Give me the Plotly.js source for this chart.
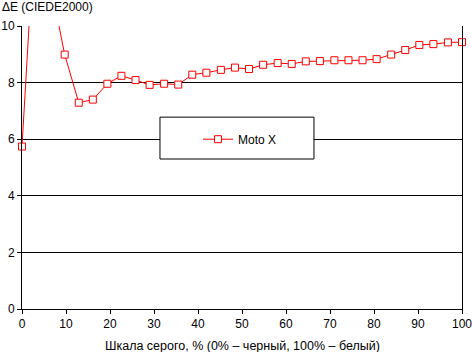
<!DOCTYPE html>
<html>
<head>
<meta charset="utf-8">
<script src="https://cdn.plot.ly/plotly-3.0.1.min.js"></script>
<style>html,body{margin:0;padding:0;background:#fff;}#chart{width:472px;height:352px;}</style>
</head>
<body>
<div id="chart"></div>
<script>
var grayLevels = [0, 3.2, 6.5, 9.7, 12.9, 16.1, 19.4, 22.6, 25.8, 29.0, 32.3, 35.5, 38.7, 41.9, 45.2, 48.4,
                  51.6, 54.8, 58.1, 61.3, 64.5, 67.7, 71.0, 74.2, 77.4, 80.6, 83.9, 87.1, 90.3, 93.5, 96.8, 100];
var motoX = [5.74, 14.3, 11.5, 8.99, 7.29, 7.40, 7.96, 8.24, 8.09, 7.92, 7.96, 7.93, 8.28, 8.35, 8.45, 8.53,
             8.48, 8.63, 8.69, 8.66, 8.75, 8.76, 8.79, 8.79, 8.79, 8.83, 8.99, 9.15, 9.33, 9.36, 9.42, 9.43];
var seriesName = "Moto X";
var xTicks = [0, 10, 20, 30, 40, 50, 60, 70, 80, 90, 100];
var yTicks = [0, 2, 4, 6, 8, 10];
var xTitle = "Шкала серого, % (0% – черный, 100% – белый)";
var yTitle = "ΔE (CIEDE2000)";

var font = {family: "Liberation Sans, Arial, sans-serif", size: 12, color: "#000"};
var titleFont = {family: "Liberation Sans, Arial, sans-serif", size: 12.5, color: "#000"};

var trace = {
  x: grayLevels, y: motoX, name: seriesName, type: "scatter", mode: "lines+markers",
  cliponaxis: false,
  line: {color: "#ff0000", width: 1},
  marker: {symbol: "square", size: 7, color: "#ffffff", line: {color: "#ff0000", width: 1}}
};

var layout = {
  width: 472, height: 352,
  margin: {l: 22, r: 10, t: 26, b: 43, pad: 0},
  paper_bgcolor: "#fff", plot_bgcolor: "#fff",
  font: font,
  showlegend: true,
  xaxis: {
    range: [0, 100], tickvals: xTicks, ticktext: xTicks.map(String),
    showgrid: false, zeroline: false, showline: true, linecolor: "#000", linewidth: 1,
    ticks: "outside", ticklen: 4, tickcolor: "#000", tickfont: font, fixedrange: true,
    ticklabeloverflow: "allow"
  },
  yaxis: {
    range: [0, 10], tickvals: yTicks, ticktext: yTicks.map(String),
    showgrid: true, gridcolor: "#000", gridwidth: 1, zeroline: false,
    showline: true, mirror: true, linecolor: "#000", linewidth: 1,
    ticks: "outside", ticklen: 4, tickcolor: "#000", tickfont: font, fixedrange: true,
    ticklabeloverflow: "allow"
  },
  shapes: [{
    type: "rect", xref: "paper", yref: "paper", layer: "above",
    x0: 0.3136, x1: 0.6636, y0: 0.530, y1: 0.678,
    fillcolor: "#ffffff", line: {color: "#000", width: 1}
  }],
  legend: {
    x: 0.40, y: 0.60, xanchor: "left", yanchor: "middle",
    bgcolor: "rgba(0,0,0,0)", borderwidth: 0, font: font, itemwidth: 30
  },
  annotations: [
    {text: yTitle, xref: "paper", yref: "paper", x: -22/440, y: 1 + 19/283,
     xanchor: "left", yanchor: "middle", showarrow: false, font: font},
    {text: xTitle, xref: "paper", yref: "paper", x: 0.5, y: -37/283,
     xanchor: "center", yanchor: "middle", showarrow: false, font: titleFont}
  ]
};

Plotly.newPlot("chart", [trace], layout, {staticPlot: true, displayModeBar: false});
</script>
</body>
</html>
